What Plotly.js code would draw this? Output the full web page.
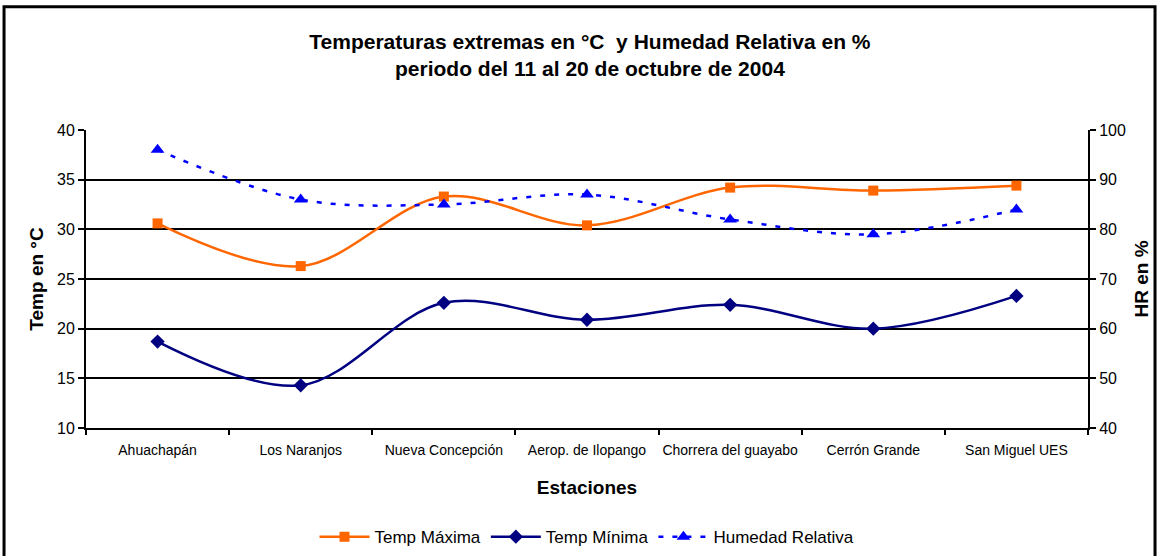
<!DOCTYPE html>
<html>
<head>
<meta charset="utf-8">
<script src="https://cdn.plot.ly/plotly-3.0.1.min.js"></script>
<style>html,body{margin:0;padding:0;background:#fff;}#chart{width:1159px;height:556px;}</style>
</head>
<body>
<div id="chart"></div>
<script>
const estaciones = ["Ahuachapán", "Los Naranjos", "Nueva Concepción", "Aerop. de Ilopango", "Chorrera del guayabo", "Cerrón Grande", "San Miguel UES"];
const tempMaxima = [30.6, 26.3, 33.3, 30.4, 34.2, 33.9, 34.4];
const tempMinima = [18.7, 14.3, 22.6, 20.9, 22.4, 20.0, 23.3];
const humedadRelativa = [96, 86, 85, 87, 82, 79, 84];

const F = '"Liberation Sans", Arial, sans-serif';

const traces = [
  {x: estaciones, y: tempMaxima, name: 'Temp Máxima', type: 'scatter', mode: 'lines+markers',
   line: {color: '#FF6600', width: 2.5, shape: 'spline', smoothing: 1},
   marker: {symbol: 'square', size: 10, color: '#FF6600'}},
  {x: estaciones, y: tempMinima, name: 'Temp Mínima', type: 'scatter', mode: 'lines+markers',
   line: {color: '#000080', width: 2.5, shape: 'spline', smoothing: 1},
   marker: {symbol: 'diamond', size: 11, color: '#000080'}},
  {x: estaciones, y: humedadRelativa, name: 'Humedad Relativa', type: 'scatter', mode: 'lines+markers', yaxis: 'y2',
   line: {color: '#0000FF', width: 2.5, dash: '5px,9px', shape: 'spline', smoothing: 1},
   marker: {symbol: 'triangle-up', size: 12, color: '#0000FF'}}
];

const layout = {
  width: 1159, height: 556,
  paper_bgcolor: '#fff', plot_bgcolor: '#fff',
  margin: {l: 86, r: 71, t: 130, b: 128, autoexpand: false},
  font: {family: F, color: '#000', size: 13},
  title: {text: '<b>Temperaturas extremas en °C  y Humedad Relativa en %<br>periodo del 11 al 20 de octubre de 2004</b>',
          font: {family: F, size: 21, color: '#000'}, x: 0.509, xanchor: 'center', yref: 'container', y: 0.912, yanchor: 'top'},
  xaxis: {type: 'category', showgrid: false, showline: true, linecolor: '#000', linewidth: 2,
          ticks: 'outside', tickson: 'boundaries', ticklen: 5, tickwidth: 2, tickcolor: '#000',
          ticklabelstandoff: 8, tickangle: 0,
          tickfont: {size: 14, family: F}, range: [-0.5, 6.5], zeroline: false,
          title: {text: '<b>Estaciones</b>', font: {size: 19, family: F}, standoff: 24}},
  yaxis: {range: [10, 40], dtick: 5, showgrid: true, gridcolor: '#000', gridwidth: 2,
          showline: true, linecolor: '#000', linewidth: 2, ticks: 'outside', ticklen: 6, tickwidth: 2, tickcolor: '#000',
          tickfont: {size: 16, family: F}, zeroline: false,
          title: {text: '<b>Temp en °C</b>', font: {size: 19, family: F}, standoff: 8}},
  yaxis2: {range: [40, 100], dtick: 10, overlaying: 'y', side: 'right', showgrid: false,
          showline: true, linecolor: '#000', linewidth: 2, ticks: 'outside', ticklen: 6, tickwidth: 2, tickcolor: '#000',
          tickfont: {size: 16, family: F}, zeroline: false,
          title: {text: '<b>HR en %</b>', font: {size: 19, family: F}, standoff: 10}},
  showlegend: true,
  legend: {orientation: 'h', x: 0.5, xanchor: 'center', yref: 'container', y: 0.034, yanchor: 'middle',
           font: {size: 17, family: F}, itemwidth: 50, bgcolor: 'rgba(0,0,0,0)', traceorder: 'normal'},
  shapes: [{type: 'rect', xref: 'paper', yref: 'paper', x0: -0.0818, x1: 1.0669, y0: -0.5, y1: 1.414,
            line: {color: '#000', width: 3}, fillcolor: 'rgba(0,0,0,0)', layer: 'below'}]
};

Plotly.newPlot('chart', traces, layout, {displayModeBar: false, staticPlot: true});
</script>
</body>
</html>
